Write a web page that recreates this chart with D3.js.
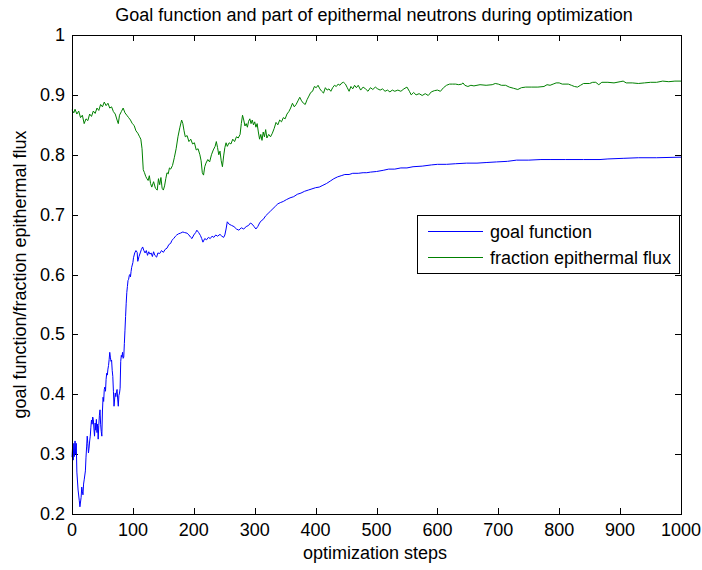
<!doctype html>
<html lang="en">
<head>
<meta charset="utf-8">
<title>Goal function and part of epithermal neutrons</title>
<script src="https://cdn.jsdelivr.net/npm/d3@7"></script>
<style>
  body { margin: 0; background: #fff; }
  svg text { font-family: "Liberation Sans", Arial, sans-serif; fill: #000; font-size: 18px; }
  .frame { fill: none; stroke: #000; stroke-width: 1; }
  .tick { stroke: #000; stroke-width: 1; }
  .series { fill: none; stroke-width: 1; }
</style>
</head>
<body>
<svg id="chart" width="702" height="570"></svg>
<script>
// [step, value]
var goalSeries = [
  [0,0.295],[1,0.312],[2,0.290],[3,0.318],[4,0.296],[5,0.322],[6,0.300],[7,0.318],[8,0.270],[10,0.240],
  [12,0.222],[13,0.212],[15,0.228],[16,0.245],[17,0.238],[18,0.232],[19,0.250],[20,0.257],[22,0.272],[23,0.295],
  [24,0.312],[25,0.330],[26,0.318],[27,0.302],[28,0.310],[29,0.322],[30,0.330],[31,0.345],[32,0.357],[33,0.350],
  [34,0.362],[35,0.358],[36,0.342],[37,0.330],[38,0.352],[39,0.340],[40,0.358],[41,0.336],[42,0.350],[43,0.325],
  [44,0.348],[45,0.365],[46,0.374],[47,0.350],[48,0.338],[49,0.330],[50,0.372],[51,0.395],[52,0.388],[53,0.408],
  [54,0.412],[55,0.405],[56,0.425],[57,0.435],[58,0.432],[59,0.442],[60,0.448],[61,0.458],[62,0.470],[63,0.462],
  [64,0.455],[65,0.457],[66,0.440],[67,0.430],[68,0.405],[69,0.380],[70,0.392],[71,0.402],[72,0.396],[73,0.404],
  [74,0.408],[75,0.392],[76,0.380],[77,0.398],[78,0.402],[79,0.410],[80,0.455],[81,0.465],[82,0.462],[83,0.470],
  [84,0.460],[85,0.462],[86,0.485],[87,0.507],[88,0.530],[89,0.552],[90,0.570],[91,0.580],[92,0.590],[93,0.592],
  [94,0.598],[95,0.600],[96,0.596],[97,0.605],[98,0.612],[100,0.620],[101,0.628],[103,0.636],[105,0.640],[107,0.637],
  [108,0.622],[110,0.630],[112,0.636],[114,0.642],[116,0.646],[118,0.640],[120,0.636],[122,0.640],[124,0.632],[126,0.638],
  [128,0.634],[130,0.636],[132,0.630],[134,0.638],[136,0.632],[139,0.629],[141,0.636],[144,0.635],[147,0.640],[150,0.637],
  [153,0.642],[156,0.644],[159,0.650],[162,0.652],[164,0.657],[167,0.660],[170,0.664],[172,0.666],[175,0.668],[178,0.669],
  [182,0.671],[185,0.670],[189,0.669],[192,0.666],[195,0.662],[197,0.660],[200,0.666],[203,0.670],[205,0.674],[208,0.670],
  [211,0.665],[213,0.660],[215,0.654],[218,0.660],[221,0.658],[224,0.662],[227,0.660],[230,0.664],[233,0.662],[236,0.666],
  [239,0.664],[243,0.667],[246,0.664],[249,0.662],[251,0.666],[253,0.676],[255,0.688],[258,0.684],[262,0.682],[266,0.680],
  [270,0.676],[274,0.674],[278,0.678],[282,0.676],[286,0.680],[290,0.682],[293,0.686],[296,0.684],[299,0.680],[302,0.676],
  [305,0.680],[308,0.686],[311,0.690],[314,0.692],[318,0.698],[322,0.702],[326,0.706],[330,0.710],[334,0.714],[338,0.718],
  [342,0.720],[347,0.722],[352,0.725],[358,0.728],[364,0.730],[370,0.734],[376,0.736],[382,0.739],[388,0.741],[394,0.743],
  [400,0.745],[406,0.746],[412,0.749],[418,0.752],[424,0.756],[430,0.760],[436,0.763],[442,0.765],[448,0.767],[455,0.767],
  [461,0.769],[470,0.769],[478,0.770],[484,0.770],[490,0.771],[500,0.772],[511,0.774],[520,0.776],[530,0.776],[540,0.778],
  [550,0.778],[560,0.780],[575,0.781],[590,0.783],[600,0.784],[615,0.784],[630,0.785],[648,0.786],[665,0.786],[680,0.787],
  [697,0.788],[715,0.789],[730,0.791],[750,0.791],[770,0.792],[785,0.792],[810,0.792],[840,0.792],[867,0.792],[880,0.793],
  [905,0.794],[930,0.795],[960,0.795],[1000,0.796]
];

var fluxSeries = [
  [0,0.875],[3,0.870],[5,0.876],[8,0.868],[11,0.873],[14,0.862],[17,0.866],[20,0.852],[23,0.860],[26,0.857],
  [29,0.868],[32,0.864],[35,0.873],[38,0.869],[41,0.878],[44,0.874],[47,0.884],[50,0.880],[53,0.888],[56,0.882],
  [59,0.886],[62,0.878],[65,0.880],[68,0.872],[71,0.868],[74,0.858],[76,0.852],[78,0.866],[81,0.872],[84,0.878],
  [87,0.870],[90,0.866],[93,0.862],[96,0.858],[99,0.852],[102,0.849],[105,0.840],[108,0.836],[111,0.830],[113,0.826],
  [115,0.810],[117,0.775],[119,0.770],[121,0.764],[123,0.760],[125,0.757],[127,0.765],[129,0.752],[131,0.746],[134,0.755],
  [137,0.744],[140,0.741],[142,0.760],[144,0.750],[146,0.762],[148,0.744],[150,0.741],[152,0.748],[154,0.760],[156,0.770],
  [158,0.768],[160,0.778],[162,0.776],[165,0.782],[168,0.795],[171,0.810],[174,0.830],[177,0.845],[180,0.858],[182,0.852],
  [184,0.840],[186,0.830],[189,0.832],[192,0.822],[195,0.826],[198,0.818],[201,0.820],[204,0.808],[207,0.810],[210,0.800],
  [212,0.790],[214,0.770],[216,0.766],[218,0.780],[220,0.786],[223,0.792],[226,0.788],[229,0.800],[232,0.808],[235,0.814],
  [237,0.822],[239,0.812],[241,0.800],[243,0.806],[245,0.790],[247,0.780],[249,0.798],[251,0.812],[253,0.820],[255,0.814],
  [258,0.820],[261,0.818],[264,0.826],[267,0.822],[270,0.830],[273,0.828],[276,0.834],[278,0.852],[280,0.866],[282,0.858],
  [284,0.848],[286,0.852],[288,0.846],[290,0.856],[292,0.860],[294,0.852],[296,0.858],[298,0.850],[300,0.855],[302,0.846],
  [304,0.852],[306,0.838],[308,0.826],[310,0.834],[312,0.824],[314,0.838],[316,0.830],[318,0.842],[320,0.828],[323,0.834],
  [326,0.830],[329,0.836],[332,0.844],[335,0.854],[338,0.850],[341,0.858],[344,0.855],[347,0.862],[350,0.860],[353,0.868],
  [356,0.872],[359,0.878],[362,0.886],[365,0.880],[368,0.884],[371,0.890],[374,0.896],[377,0.890],[380,0.886],[383,0.884],
  [386,0.892],[389,0.898],[392,0.904],[395,0.906],[398,0.914],[401,0.912],[404,0.916],[407,0.910],[410,0.906],[413,0.903],
  [416,0.912],[419,0.908],[422,0.910],[425,0.906],[428,0.912],[431,0.916],[434,0.914],[437,0.918],[440,0.916],[443,0.920],
  [446,0.921],[449,0.918],[452,0.912],[455,0.906],[458,0.914],[461,0.910],[464,0.916],[467,0.912],[470,0.916],[474,0.908],
  [478,0.913],[482,0.910],[486,0.906],[490,0.912],[494,0.909],[498,0.913],[502,0.910],[506,0.908],[510,0.910],[514,0.906],
  [518,0.908],[522,0.905],[526,0.908],[530,0.906],[535,0.908],[540,0.906],[545,0.910],[550,0.913],[554,0.906],[557,0.900],
  [561,0.904],[565,0.900],[570,0.902],[575,0.899],[580,0.902],[585,0.899],[590,0.905],[595,0.907],[600,0.908],[605,0.906],
  [610,0.912],[615,0.916],[620,0.918],[625,0.918],[630,0.918],[635,0.917],[640,0.918],[642,0.920],[645,0.916],[650,0.914],
  [655,0.916],[660,0.915],[665,0.916],[670,0.917],[680,0.916],[690,0.917],[695,0.919],[700,0.918],[705,0.916],[712,0.916],
  [718,0.913],[725,0.911],[732,0.909],[738,0.912],[745,0.913],[755,0.913],[765,0.913],[775,0.914],[780,0.917],[785,0.916],
  [790,0.918],[795,0.920],[800,0.920],[805,0.918],[815,0.918],[820,0.916],[825,0.914],[830,0.913],[835,0.916],[840,0.919],
  [850,0.919],[855,0.921],[860,0.921],[865,0.917],[870,0.921],[880,0.921],[890,0.920],[900,0.922],[905,0.923],[910,0.920],
  [920,0.920],[930,0.919],[940,0.920],[950,0.921],[960,0.921],[970,0.923],[980,0.922],[990,0.923],[1000,0.923]
];

var xTicks = [0, 100, 200, 300, 400, 500, 600, 700, 800, 900, 1000];
var yTicks = [0.2, 0.3, 0.4, 0.5, 0.6, 0.7, 0.8, 0.9, 1];
var seriesNames = ["goal function", "fraction epithermal flux"];
var seriesColors = ["#0000ff", "#008000"];

// plot box (window.top is reserved, so use other names)
var plotL = 72, plotR = 681, plotT = 35, plotB = 514;
var svg = d3.select("#chart");

var x = d3.scaleLinear().domain([0, 1000]).range([plotL, plotR]);
var y = d3.scaleLinear().domain([0.2, 1]).range([plotB, plotT]);

var tickLen = 6;
var g = svg.append("g");

// tick marks on all four sides, pointing inward
xTicks.forEach(function(t) {
  var px = Math.round(x(t)) + 0.5;
  g.append("line").attr("class", "tick")
    .attr("x1", px).attr("x2", px).attr("y1", plotB).attr("y2", plotB - tickLen);
  g.append("line").attr("class", "tick")
    .attr("x1", px).attr("x2", px).attr("y1", plotT).attr("y2", plotT + tickLen);
  g.append("text")
    .attr("x", x(t)).attr("y", plotB + 22)
    .attr("text-anchor", "middle")
    .text(t);
});
yTicks.forEach(function(t) {
  var py = Math.round(y(t)) + 0.5;
  g.append("line").attr("class", "tick")
    .attr("x1", plotL).attr("x2", plotL + tickLen).attr("y1", py).attr("y2", py);
  g.append("line").attr("class", "tick")
    .attr("x1", plotR).attr("x2", plotR - tickLen).attr("y1", py).attr("y2", py);
  g.append("text")
    .attr("x", plotL - 7).attr("y", y(t) + 6)
    .attr("text-anchor", "end")
    .text(t);
});

var line = d3.line()
  .x(function(d) { return x(d[0]); })
  .y(function(d) { return y(d[1]); });

[goalSeries, fluxSeries].forEach(function(s, i) {
  svg.append("path").attr("class", "series")
    .attr("d", line(s))
    .attr("stroke", seriesColors[i]);
});

// box
svg.append("rect").attr("class", "frame")
  .attr("x", plotL + 0.5).attr("y", plotT + 0.5)
  .attr("width", plotR - plotL).attr("height", plotB - plotT);

// legend
var lg = svg.append("g");
lg.append("rect")
  .attr("x", 417.5).attr("y", 215.5).attr("width", 262).attr("height", 58)
  .attr("fill", "#fff").attr("stroke", "#000");
seriesNames.forEach(function(name, i) {
  var ly = 231.5 + i * 26;
  lg.append("line").attr("x1", 428).attr("x2", 483).attr("y1", ly).attr("y2", ly)
    .attr("stroke", seriesColors[i]).attr("stroke-width", 1);
  lg.append("text").attr("x", 490).attr("y", ly + 6)
    .text(name);
});

// titles
svg.append("text")
  .attr("x", 374).attr("y", 21)
  .attr("text-anchor", "middle")
  .text("Goal function and part of epithermal neutrons during optimization");

svg.append("text")
  .attr("x", 375).attr("y", 559)
  .attr("text-anchor", "middle")
  .text("optimization steps");

svg.append("text")
  .attr("transform", "translate(26," + ((plotT + plotB) / 2) + ") rotate(-90)")
  .attr("text-anchor", "middle")
  .text("goal function/fraction epithermal flux");
</script>
</body>
</html>
